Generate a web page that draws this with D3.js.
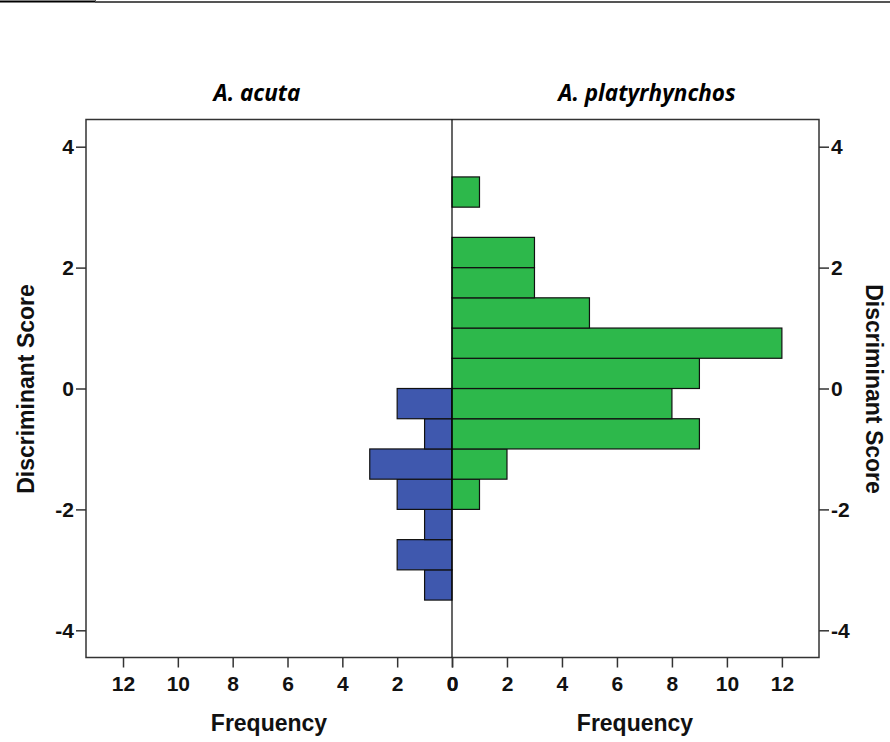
<!DOCTYPE html>
<html><head><meta charset="utf-8">
<script src="https://cdn.jsdelivr.net/npm/d3@7"></script>
<style>body{margin:0;background:#fff}svg{display:block}</style>
</head><body><svg id="c" width="890" height="742"></svg>
<script>
const binEdges = [-3.5,-3,-2.5,-2,-1.5,-1,-0.5,0,0.5,1,1.5,2,2.5,3];
const binWidth = 0.5;
const acutaCounts = [1,2,1,2,3,1,2,0,0,0,0,0,0,0];
const platyCounts = [0,0,0,1,2,9,8,9,12,5,3,3,0,1];
const freqTicks = [0,2,4,6,8,10,12];
const scoreTicks = [-4,-2,0,2,4];
const panelTitles = ["A. acuta","A. platyrhynchos"];

const svg = d3.select("#c");
const L=86, R=819, T=119.5, B=657.5, C=452;
const y = d3.scaleLinear().domain([-4.45,4.45]).range([B,T]);
const xL = d3.scaleLinear().domain([0,13.35]).range([C,L]);
const xR = d3.scaleLinear().domain([0,13.35]).range([C,R]);

// top decorative rule
svg.append("line").attr("x1",0).attr("x2",95).attr("y1",1.5).attr("y2",1.5).attr("stroke","#000").attr("stroke-width",2);
svg.append("line").attr("x1",95).attr("x2",890).attr("y1",2).attr("y2",2).attr("stroke","#555").attr("stroke-width",2);
svg.append("line").attr("x1",95.5).attr("x2",95.5).attr("y1",0).attr("y2",3).attr("stroke","#555").attr("stroke-width",1);

const bars = binEdges.map((e,i)=>({lo:e,hi:e+binWidth,a:acutaCounts[i],p:platyCounts[i]}));
svg.append("g").selectAll("rect").data(bars.filter(d=>d.a>0)).join("rect")
  .attr("x",d=>xL(d.a)).attr("width",d=>xL(0)-xL(d.a))
  .attr("y",d=>y(d.hi)).attr("height",d=>y(d.lo)-y(d.hi))
  .attr("fill","#3f58ae").attr("stroke","#111").attr("stroke-width",1.2);
svg.append("g").selectAll("rect").data(bars.filter(d=>d.p>0)).join("rect")
  .attr("x",xR(0)).attr("width",d=>xR(d.p)-xR(0))
  .attr("y",d=>y(d.hi)).attr("height",d=>y(d.lo)-y(d.hi))
  .attr("fill","#2db84b").attr("stroke","#111").attr("stroke-width",1.2);

// frame
svg.append("rect").attr("x",L).attr("y",T).attr("width",R-L).attr("height",B-T)
  .attr("fill","none").attr("stroke","#333").attr("stroke-width",1.5);
svg.append("line").attr("x1",C).attr("x2",C).attr("y1",T).attr("y2",B).attr("stroke","#000").attr("stroke-width",1.2);

function styleAxis(g){
  g.attr("font-family","'Liberation Sans', Arial, sans-serif").attr("font-size",21).attr("font-weight","bold");
  g.select(".domain").remove();
  g.selectAll(".tick line").attr("stroke","#333").attr("stroke-width",1.5);
  g.selectAll(".tick text").attr("fill","#111");
}
const fmt = d => String(d);
svg.append("g").attr("transform",`translate(0,${B})`)
  .call(d3.axisBottom(xL).tickValues(freqTicks).tickFormat(fmt).tickSize(10).tickPadding(9)).call(styleAxis);
svg.append("g").attr("transform",`translate(0,${B})`)
  .call(d3.axisBottom(xR).tickValues(freqTicks).tickFormat(fmt).tickSize(10).tickPadding(9)).call(styleAxis);
svg.append("g").attr("transform",`translate(${L},0)`)
  .call(d3.axisLeft(y).tickValues(scoreTicks).tickFormat(fmt).tickSize(10).tickPadding(2)).call(styleAxis);
svg.append("g").attr("transform",`translate(${R},0)`)
  .call(d3.axisRight(y).tickValues(scoreTicks).tickFormat(fmt).tickSize(10).tickPadding(2)).call(styleAxis);

const labFont = "bold 23px 'Liberation Sans', Arial, sans-serif";
svg.append("text").attr("x",269).attr("y",731).attr("text-anchor","middle").style("font",labFont).attr("fill","#111").text("Frequency");
svg.append("text").attr("x",635).attr("y",731).attr("text-anchor","middle").style("font",labFont).attr("fill","#111").text("Frequency");
svg.append("text").attr("transform","translate(34,389) rotate(-90)").attr("text-anchor","middle").style("font",labFont).attr("fill","#111").text("Discriminant Score");
svg.append("text").attr("transform","translate(866,389) rotate(90)").attr("text-anchor","middle").style("font",labFont).attr("fill","#111").text("Discriminant Score");

const titleFont = "italic bold 22.5px 'Open Sans', sans-serif";
svg.append("text").attr("x",257).attr("y",101).attr("text-anchor","middle").style("font",titleFont).attr("fill","#000").text(panelTitles[0]);
svg.append("text").attr("x",647).attr("y",101).attr("text-anchor","middle").style("font",titleFont).attr("fill","#000").text(panelTitles[1]);
</script></body></html>
